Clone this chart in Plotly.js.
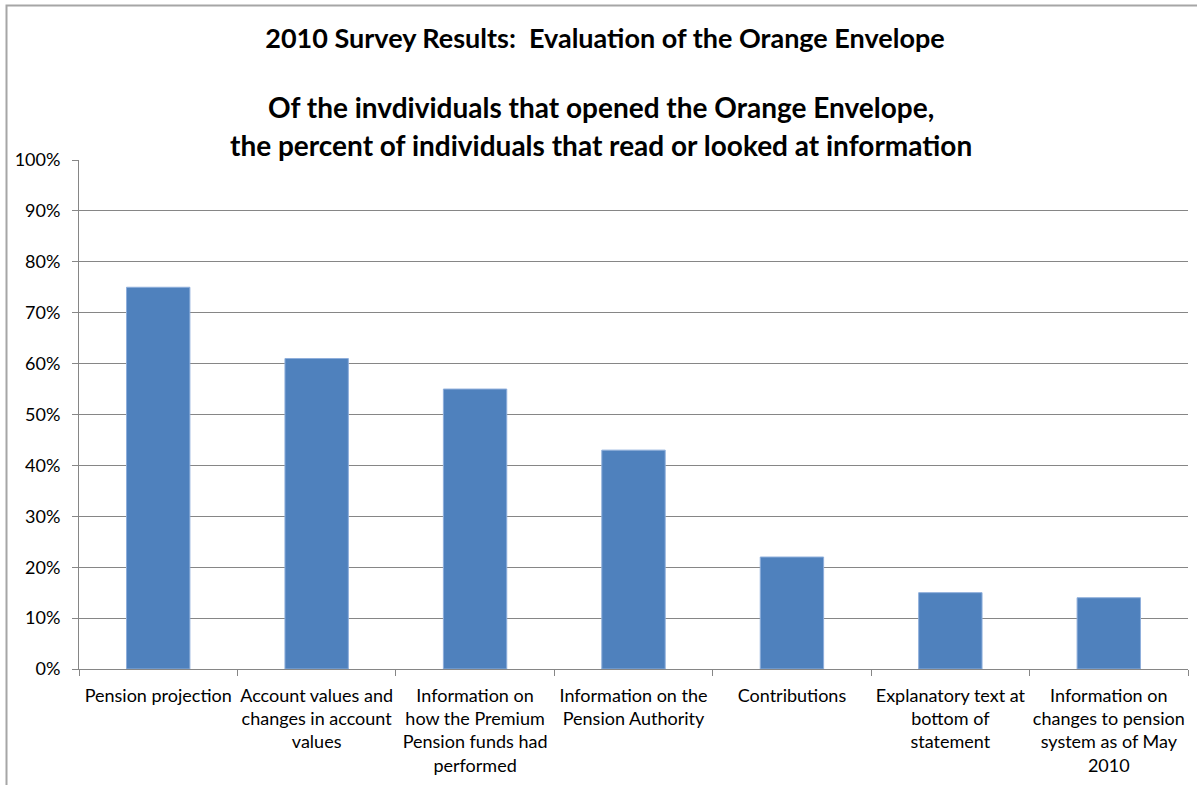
<!DOCTYPE html>
<html>
<head>
<meta charset="utf-8">
<script src="https://cdn.plot.ly/plotly-3.0.1.min.js"></script>
<style>html,body{margin:0;padding:0;background:#fff;}#chart{width:1197px;height:785px;}</style>
</head>
<body>
<div id="chart"></div>
<script>
const categories = [
  "Pension projection",
  "Account values and changes in account values",
  "Information on how the Premium Pension funds had performed",
  "Information on the Pension Authority",
  "Contributions",
  "Explanatory text at bottom of statement",
  "Information on changes to pension system as of May 2010"
];
const tickLabels = [
  "Pension projection",
  "Account values and<br>changes in account<br>values",
  "Information on<br>how the Premium<br>Pension funds had<br>performed",
  "Information on the<br>Pension Authority",
  "Contributions",
  "Explanatory text at<br>bottom of<br>statement",
  "Information on<br>changes to pension<br>system as of May<br>2010"
];
const percentRead = [75, 61, 55, 43, 22, 15, 14];
const yTickValues = [0, 10, 20, 30, 40, 50, 60, 70, 80, 90, 100];
const yTickLabels = ["0%", "10%", "20%", "30%", "40%", "50%", "60%", "70%", "80%", "90%", "100%"];

const titleLine1 = "2010 Survey Results:  Evaluation of the Orange Envelope";
const titleLine2 = "Of the invdividuals that opened the Orange Envelope,";
const titleLine3 = "the percent of individuals that read or looked at information";

const FONT = "Lato, 'Open Sans', sans-serif";
const grid = "#868686";

const trace = {
  type: "bar",
  x: categories,
  y: percentRead,
  marker: {color: "#4F81BD", line: {color: "#8EAEDB", width: 1}},
  hoverinfo: "x+y"
};

const plotTop = 160, plotBottom = 669, plotLeft = 79, plotRight = 1188;
const plotH = plotBottom - plotTop;
const plotW = plotRight - plotLeft;

const layout = {
  width: 1197, height: 785,
  margin: {l: plotLeft, r: 1197 - plotRight, t: plotTop, b: 785 - plotBottom, pad: 0},
  paper_bgcolor: "#ffffff", plot_bgcolor: "#ffffff",
  font: {family: FONT, size: 18, color: "#000"},
  showlegend: false,
  bargap: 0.6,
  title: {
    text: "<b>" + titleLine1 + "</b>",
    font: {family: FONT, size: 27, color: "#000"},
    x: (605 - plotLeft) / plotW, xref: "paper", xanchor: "center",
    y: 1 - 39/785, yref: "container", yanchor: "middle"
  },
  xaxis: {
    type: "category",
    tickmode: "array",
    tickvals: categories,
    ticktext: tickLabels,
    tickson: "boundaries",
    ticks: "outside", ticklen: 6, tickcolor: grid, tickwidth: 1,
    showline: true, linecolor: grid, linewidth: 1,
    showgrid: false, zeroline: false,
    tickangle: 0,
    tickfont: {family: FONT, size: 18, color: "#000"},
    ticklabelstandoff: 10
  },
  yaxis: {
    range: [0, 100],
    tickmode: "array",
    tickvals: yTickValues,
    ticktext: yTickLabels,
    ticks: "outside", ticklen: 6, tickcolor: grid, tickwidth: 1,
    showline: true, linecolor: grid, linewidth: 1,
    showgrid: true, gridcolor: grid, gridwidth: 1,
    zeroline: false,
    tickfont: {family: FONT, size: 18, color: "#000"},
    ticklabelstandoff: 8
  },
  annotations: [
    {text: "<b>" + titleLine2 + "</b>", xref: "paper", yref: "paper",
     x: (601 - plotLeft) / plotW, y: (plotBottom - 107) / plotH, xanchor: "center", yanchor: "middle",
     showarrow: false, font: {family: FONT, size: 28, color: "#000"}},
    {text: "<b>" + titleLine3 + "</b>", xref: "paper", yref: "paper",
     x: (601 - plotLeft) / plotW, y: (plotBottom - 145) / plotH, xanchor: "center", yanchor: "middle",
     showarrow: false, font: {family: FONT, size: 28, color: "#000"}}
  ],
  shapes: [
    {type: "rect", xref: "paper", yref: "paper", layer: "below",
     x0: (6.5 - plotLeft) / plotW, x1: 1.05, y0: -0.5, y1: (plotBottom - 5.5) / plotH,
     line: {color: "#a6a6a6", width: 2}, fillcolor: "rgba(0,0,0,0)"}
  ]
};

Plotly.newPlot("chart", [trace], layout, {displayModeBar: false, responsive: false});
</script>
</body>
</html>
